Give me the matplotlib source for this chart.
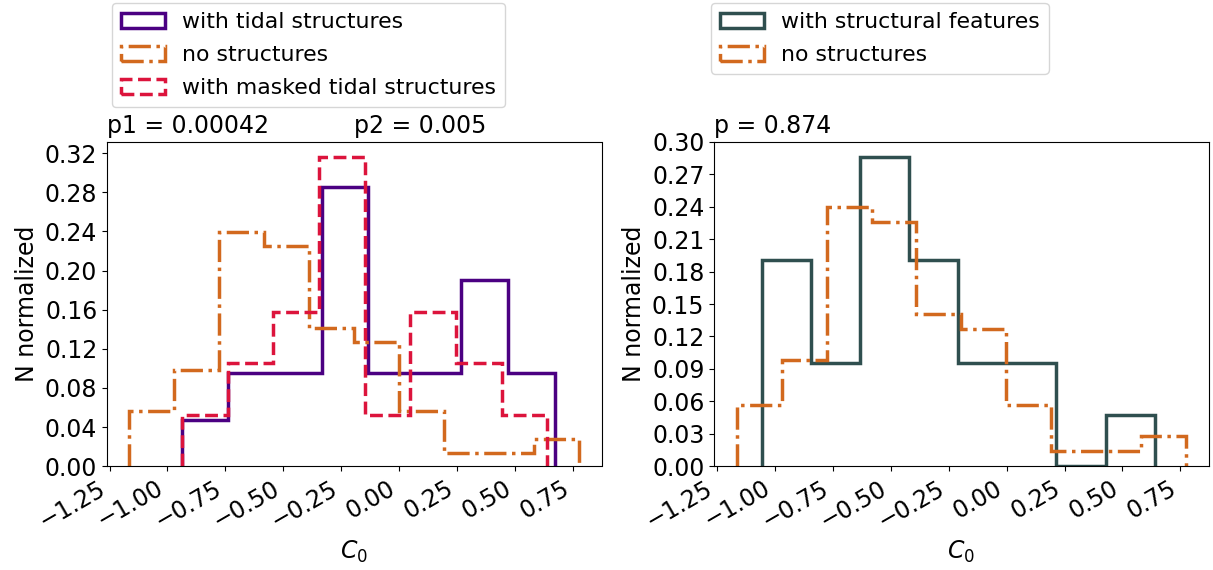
import numpy as np
import matplotlib
matplotlib.use("Agg")
import matplotlib.pyplot as plt
from matplotlib.ticker import MultipleLocator

# ---- data (bin edges and normalized heights) ----
edges_tidal = [-0.938, -0.737, -0.536, -0.335, -0.134, 0.067, 0.268, 0.469, 0.671]
vals_tidal = [1/21, 2/21, 2/21, 6/21, 2/21, 2/21, 4/21, 2/21]

edges_none = [-1.164, -0.970, -0.776, -0.582, -0.389, -0.195, -0.001, 0.193, 0.387, 0.581, 0.775]
vals_none = [4/71, 7/71, 17/71, 16/71, 10/71, 9/71, 4/71, 1/71, 1/71, 2/71]

edges_masked = [-0.938, -0.741, -0.544, -0.347, -0.150, 0.047, 0.244, 0.441, 0.638]
vals_masked = [1/19, 2/19, 3/19, 6/19, 1/19, 3/19, 2/19, 1/19]

edges_struct = [-1.056, -0.844, -0.632, -0.420, -0.209, 0.003, 0.215, 0.427, 0.639]
vals_struct = [4/21, 2/21, 6/21, 4/21, 2/21, 2/21, 0/21, 1/21]

label_tidal = "with tidal structures"
label_none = "no structures"
label_masked = "with masked tidal structures"
label_struct = "with structural features"
p_left1 = "p1 = 0.00042"
p_left2 = "p2 = 0.005"
p_right = "p = 0.874"

FS = 17
LW = 2.5

fig = plt.figure(figsize=(12.13, 5.70), dpi=100)
ax1 = fig.add_axes([107/1213, 1 - 466.3/570, 494.5/1213, 324.6/570])
ax2 = fig.add_axes([714.2/1213, 1 - 466.3/570, 494.5/1213, 324.6/570])


def step(ax, edges, vals, color, ls, label):
    e = np.asarray(edges)
    ax.hist(e[:-1], bins=e, weights=vals, histtype='step', color=color,
            linestyle=ls, linewidth=LW, label=label)


step(ax1, edges_tidal, vals_tidal, '#4B0082', '-', label_tidal)
step(ax1, edges_none, vals_none, '#D2691E', '-.', label_none)
step(ax1, edges_masked, vals_masked, '#DC143C', '--', label_masked)

step(ax2, edges_struct, vals_struct, '#2F4F4F', '-', label_struct)
step(ax2, edges_none, vals_none, '#D2691E', '-.', label_none)

ax1.yaxis.set_major_locator(MultipleLocator(0.04))
ax2.yaxis.set_major_locator(MultipleLocator(0.03))

for ax in (ax1, ax2):
    ax.xaxis.set_major_locator(MultipleLocator(0.25))
    ax.tick_params(labelsize=FS)
    for t in ax.get_xticklabels():
        t.set_rotation(30)
        t.set_ha('right')
    ax.set_xlabel(r'$C_0$', fontsize=FS)
    ax.set_ylabel('N normalized', fontsize=FS)

ax1.text(0.0, 1.01, p_left1, transform=ax1.transAxes, fontsize=FS, ha='left', va='bottom')
ax1.text(0.5, 1.01, p_left2, transform=ax1.transAxes, fontsize=FS, ha='left', va='bottom')
ax2.text(0.0, 1.01, p_right, transform=ax2.transAxes, fontsize=FS, ha='left', va='bottom')

ax1.legend(loc='upper left', bbox_to_anchor=(0.0101, 1.427), borderaxespad=0,
           fontsize=15.8, labelspacing=0.6)
ax2.legend(loc='upper left', bbox_to_anchor=(-0.0065, 1.427), borderaxespad=0,
           fontsize=15.8, labelspacing=0.6)

fig.savefig('out.png', dpi=100)
